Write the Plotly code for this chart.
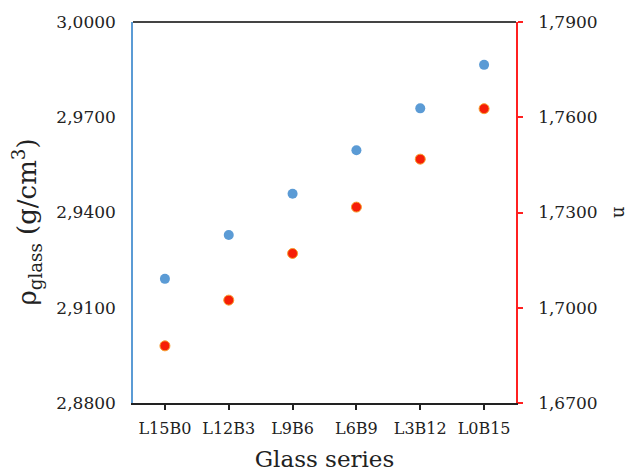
import plotly.graph_objects as go

categories = ["L15B0", "L12B3", "L9B6", "L6B9", "L3B12", "L0B15"]
rho_glass = [2.9191, 2.9329, 2.9459, 2.9596, 2.9728, 2.9865]
n_values = [1.6880, 1.7024, 1.7171, 1.7317, 1.7468, 1.7627]
left_ticks = [2.88, 2.91, 2.94, 2.97, 3.00]
right_ticks = [1.67, 1.70, 1.73, 1.76, 1.79]

xpos = list(range(len(categories)))
FONT = "DejaVu Serif"

fig = go.Figure()
fig.add_trace(go.Scatter(x=xpos, y=rho_glass, mode="markers",
                         marker=dict(color="#5B9BD5", size=10, line=dict(width=0)),
                         yaxis="y", showlegend=False))
fig.add_trace(go.Scatter(x=xpos, y=n_values, mode="markers",
                         marker=dict(color="#F61E07", size=10, line=dict(width=1, color="#F6A030")),
                         yaxis="y2", showlegend=False))

fig.update_layout(
    width=633, height=472,
    margin=dict(l=133, r=117, t=22, b=69, autoexpand=False),
    paper_bgcolor="white", plot_bgcolor="white",
    separators=", ",
    font=dict(family=FONT, color="#222222", size=17),
    xaxis=dict(range=[-0.5, 5.5], tickvals=xpos, ticktext=categories, automargin=False,
               showgrid=False, zeroline=False, showline=True, linecolor="#222222", linewidth=2,
               ticks="outside", ticklen=5, tickcolor="#222222", tickwidth=1.5,
               ticklabelstandoff=5, mirror=False,
               title=dict(text="Glass series", font=dict(size=23, family=FONT), standoff=14),
               tickfont=dict(size=16, family=FONT)),
    yaxis=dict(range=[2.88, 3.00], tickvals=left_ticks, tickformat=".4f", automargin=False,
               showgrid=False, zeroline=False, showline=True, linecolor="#5B9BD5", linewidth=1.5,
               ticks="", ticklabelstandoff=12, tickfont=dict(size=17, family=FONT)),
    yaxis2=dict(range=[1.67, 1.79], tickvals=right_ticks, tickformat=".4f", overlaying="y", side="right",
                automargin=False,
                showgrid=False, zeroline=False, showline=True, linecolor="#FF2020", linewidth=1.5,
                ticks="outside", ticklen=5, tickcolor="#FF2020", tickwidth=1.5,
                ticklabelstandoff=12,
                tickfont=dict(size=17, family=FONT)),
    shapes=[dict(type="line", xref="paper", yref="paper", x0=0, x1=1, y0=1, y1=1,
                 line=dict(color="#444444", width=2))],
    annotations=[
        dict(text="ρ<sub>glass</sub> (g/cm<sup>3</sup>)", xref="paper", yref="paper",
             x=0, xanchor="center", xshift=-106, y=0.5, yanchor="middle", yshift=-10,
             showarrow=False, textangle=-90, font=dict(size=26, family=FONT)),
        dict(text="n", xref="paper", yref="paper", x=1.0, xanchor="center", xshift=104,
             y=0.5, yanchor="middle", showarrow=False, textangle=90,
             font=dict(size=18, family=FONT)),
    ],
)

fig.write_html("out.html")
